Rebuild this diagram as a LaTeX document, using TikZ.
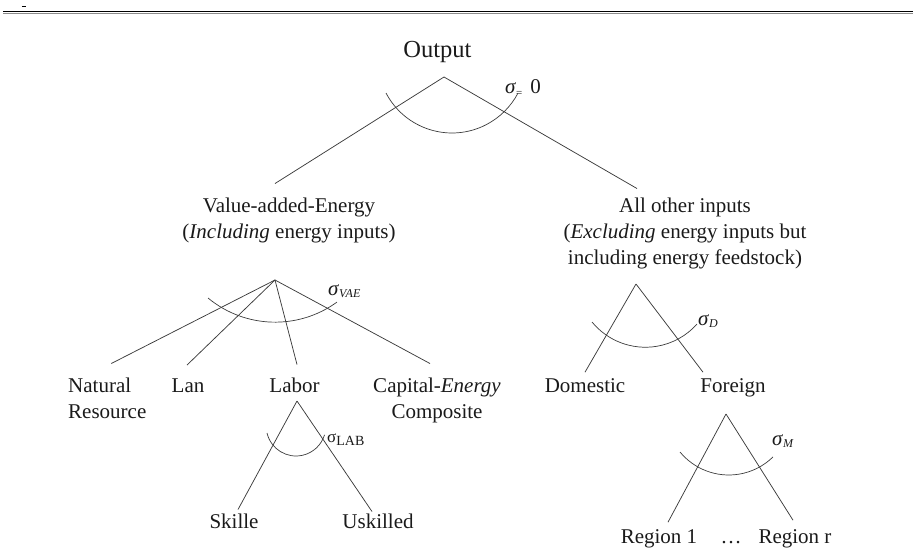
\documentclass[tikz,border=0pt]{standalone}
\usepackage{fontspec}
\setmainfont{Liberation Serif}
\definecolor{ink}{HTML}{1A1A1A}
\definecolor{stem}{HTML}{3C3C3C}
\tikzset{
  every node/.style={font=\fontsize{21}{26}\selectfont,text=ink},
  item/.style={inner sep=0,anchor=base,align=center},
  branch/.style={draw=stem,line width=.75pt},
  elas/.style={draw=stem,line width=.7pt},
  sig/.style={inner sep=0,anchor=base west}
}
\newcommand{\smallsub}[1]{\raisebox{-2pt}{\fontsize{12}{12}\selectfont\itshape #1}}

\begin{document}
\begin{tikzpicture}[x=1pt,y=-1pt]
\path[use as bounding box] (0,0) rectangle (913,551);
\draw[line width=1.4pt] (3,11.6) -- (913,11.6);
\draw[line width=1pt,draw=black!45] (3,13.4) -- (913,13.4);
\draw[line width=1pt] (21.8,6.2) -- (25.5,6.2);
\node[item,font=\fontsize{24.5}{29}\selectfont] (out) at (437.5,58) {Output};
\node[item] (vae) at (289,238) {Value-added-Energy\\(\textit{Including} energy inputs)};
\node[item] (oth) at (685,264) {All other inputs\\(\textit{Excluding} energy inputs but\\including energy feedstock)};
\coordinate (outtop) at (444,77);
\draw[branch] (outtop) -- ([shift={(-14,-13.7)}]vae.north);
\draw[branch] (outtop) -- ([shift={(-48,-8.7)}]oth.north);
\draw[elas] (386,93) arc[start angle=152.4,end angle=27.9,radius=74.5];
\node[sig] (sout) at (505,93) {\textit{σ}\raisebox{-3pt}{\fontsize{11}{11}\selectfont =}\hspace{8pt}0};
\node[item,align=left,anchor=base west] (nat) at (68,418) {Natural\\Resource};
\node[item] (lan) at (188,392) {Lan};
\node[item] (lab) at (294.5,392) {Labor};
\node[item] (cap) at (437,418) {Capital-\textit{Energy}\\Composite};
\coordinate (vaetop) at (275,280);
\draw[branch] (vaetop) -- ([shift={(4,-13.7)}]nat.north);
\draw[branch] (vaetop) -- ([shift={(-1,-13)}]lan.north);
\draw[branch] (vaetop) -- ([shift={(2.5,-12.7)}]lab.north);
\draw[branch] (vaetop) -- ([shift={(-7,-13.7)}]cap.north);
\draw[elas] (208,298) arc[start angle=129.6,end angle=54,radius=105.3];
\node[sig] (svae) at (328,295) {\textit{σ}\smallsub{VAE}};
\node[item] (ski) at (234,528) {Skille};
\node[item] (usk) at (378,528) {Uskilled};
\coordinate (labtop) at (297,401);
\draw[branch] (labtop) -- ([shift={(4,-3.7)}]ski.north);
\draw[branch] (labtop) -- ([shift={(-6,-1.7)}]usk.north);
\draw[elas] (267,433) arc[start angle=166.8,end angle=16.9,radius=29.8];
\node[sig,font=\fontsize{17}{17}\selectfont] (slab) at (327,442) {σ\raisebox{-3pt}{\fontsize{14}{14}\selectfont LAB}};
\node[item] (dom) at (585,392) {Domestic};
\node[item] (frgn) at (733,392) {Foreign};
\coordinate (othtop) at (636,284);
\draw[branch] (othtop) -- ([shift={(0,-5.7)}]dom.north);
\draw[branch] (othtop) -- ([shift={(-30,-5.7)}]frgn.north);
\draw[elas] (592,322) arc[start angle=140.6,end angle=41.7,radius=69.1];
\node[sig] (sdom) at (698,325) {\textit{σ}\smallsub{D}};
\node[item] (reg1) at (659,543) {Region 1};
\node[item] (dots) at (731,543) {\dots};
\node[item] (regr) at (795,543) {Region r};
\coordinate (frgntop) at (726,414);
\draw[branch] (frgntop) -- ([shift={(9,-6.7)}]reg1.north);
\draw[branch] (frgntop) -- ([shift={(-2,-8.7)}]regr.north);
\draw[elas] (680,452) arc[start angle=140.5,end angle=45.6,radius=63.2];
\node[sig] (sreg) at (772,445) {\textit{σ}\smallsub{M}};
\end{tikzpicture}
\end{document}
